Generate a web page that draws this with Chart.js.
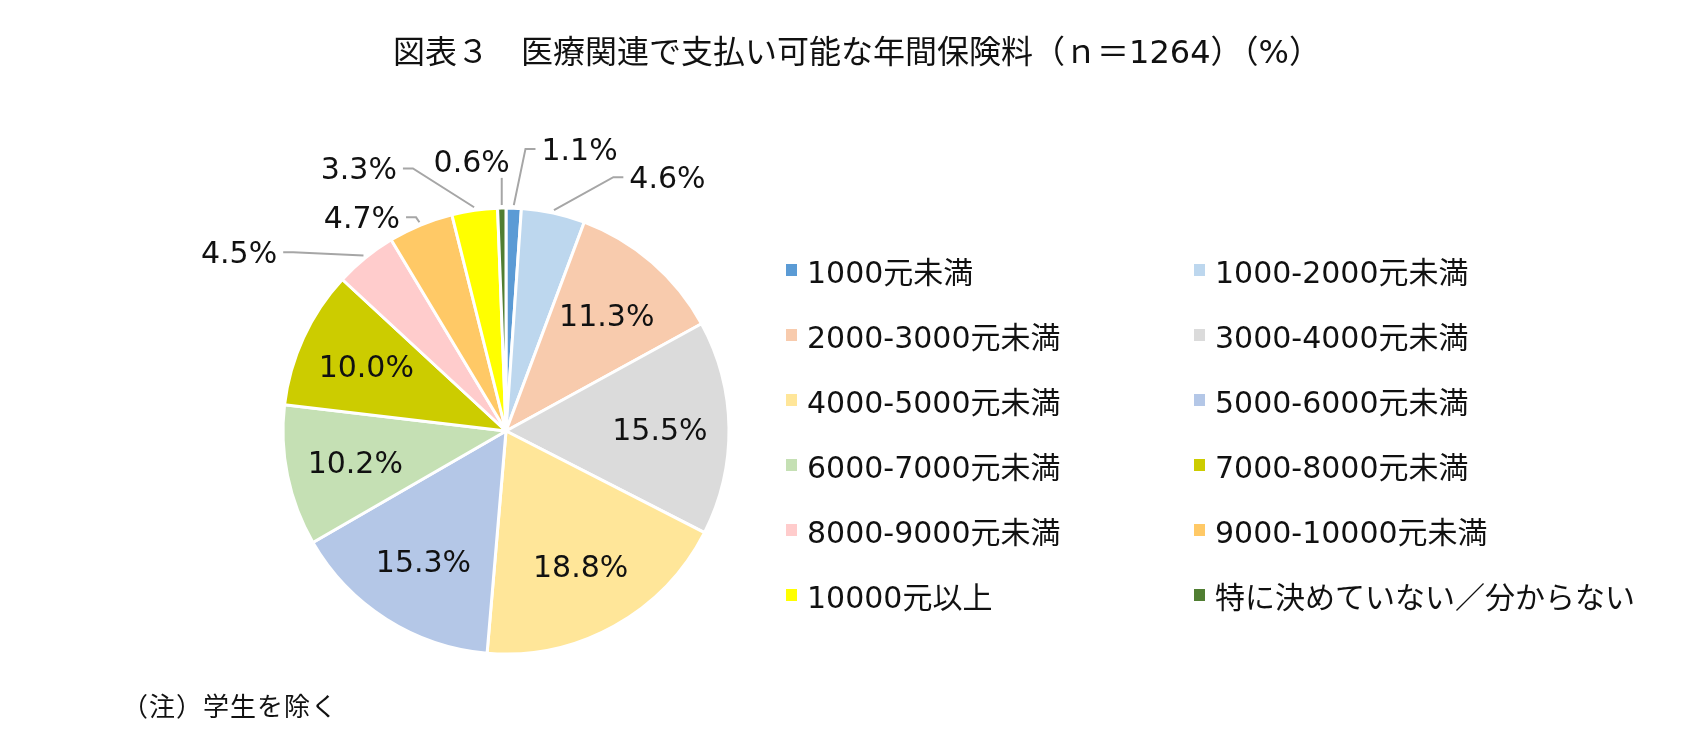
<!DOCTYPE html>
<html lang="ja">
<head>
<meta charset="utf-8">
<title>図表３</title>
<script src="https://cdn.jsdelivr.net/npm/chart.js@4.4.1/dist/chart.umd.min.js"></script>
<style>
  html, body { margin: 0; padding: 0; background: #fff; }
  body {
    position: relative;
    width: 1696px;
    height: 737px;
    overflow: hidden;
    font-family: "DejaVu Sans", "Noto Sans CJK JP", sans-serif;
    color: #111;
  }
  #pieChart { position: absolute; left: 0; top: 0; }
  #title {
    position: absolute;
    left: 257px;
    top: 32px;
    width: 1200px;
    line-height: 40px;
    font-size: 32px;
    text-align: center;
    white-space: nowrap;
  }
  #legend {
    position: absolute;
    left: 786px;
    top: 237px;
    display: grid;
    grid-template-columns: 408px 420px;
    grid-auto-rows: 65px;
  }
  .item { display: flex; align-items: center; font-size: 30px; white-space: nowrap; }
  .box { width: 11px; height: 12px; margin-right: 10px; flex: none; }
  #note {
    position: absolute;
    left: 122px;
    top: 689px;
    line-height: 36px;
    font-size: 26px;
    letter-spacing: 1px;
    white-space: nowrap;
  }
</style>
</head>
<body>
<canvas id="pieChart" width="1696" height="737"></canvas>
<div id="title">図表３　医療関連で支払い可能な年間保険料（ｎ＝1264）（%）</div>
<div id="legend"></div>
<div id="note">（注）学生を除く</div>

<script>
// categories and shares (%), clockwise from 12 o'clock
const categories = [
  "1000元未満", "1000-2000元未満", "2000-3000元未満", "3000-4000元未満",
  "4000-5000元未満", "5000-6000元未満", "6000-7000元未満", "7000-8000元未満",
  "8000-9000元未満", "9000-10000元未満", "10000元以上", "特に決めていない／分からない"
];
const shares = [1.1, 4.6, 11.3, 15.5, 18.8, 15.3, 10.2, 10.0, 4.5, 4.7, 3.3, 0.6];

const colors = [
  "#5B9BD5", "#BDD7EE", "#F8CBAD", "#DBDBDB",
  "#FFE699", "#B4C7E7", "#C5E0B4", "#CCCC00",
  "#FFCCCC", "#FFC966", "#FFFF00", "#507E32"
];

// where the small slices put their labels (relative to centre, in radii)
const outsideLabelAt = {
  0: [0.33, -1.265],
  1: [0.724, -1.138],
  8: [-1.197, -0.802],
  9: [-0.646, -0.958],
  10: [-0.66, -1.177],
  11: [-0.154, -1.211]
};

const sliceLabels = {
  id: "sliceLabels",
  afterDatasetsDraw(chart) {
    const ctx = chart.ctx;
    const arcs = chart.getDatasetMeta(0).data;
    const size = 30;
    const lift = size * 0.729 / 2; // centre the digits on the anchor
    ctx.save();
    ctx.font = size + 'px "DejaVu Sans"';
    ctx.fillStyle = "#111";
    ctx.strokeStyle = "#A6A6A6";
    ctx.lineWidth = 2;
    ctx.textAlign = "center";
    ctx.textBaseline = "alphabetic";
    arcs.forEach((arc, i) => {
      const p = arc.getProps(["x", "y", "startAngle", "endAngle", "outerRadius"], true);
      const mid = (p.startAngle + p.endAngle) / 2;
      const text = shares[i].toFixed(1) + "%";
      const at = outsideLabelAt[i];
      if (!at) {
        const r = p.outerRadius * 0.69;
        ctx.fillText(text, p.x + Math.cos(mid) * r, p.y + Math.sin(mid) * r + lift);
        return;
      }
      const cx = p.x + at[0] * p.outerRadius;
      const cy = p.y + at[1] * p.outerRadius;
      const w = ctx.measureText(text).width;
      const sx = p.x + Math.cos(mid) * (p.outerRadius + 3);
      const sy = p.y + Math.sin(mid) * (p.outerRadius + 3);
      ctx.beginPath();
      if (Math.abs(sx - cx) < w / 2) {
        ctx.moveTo(sx, sy);
        ctx.lineTo(sx, cy + lift + 6);
      } else {
        const side = sx > cx ? 1 : -1;
        const ex = cx + side * (w / 2 + 6);
        const elbow = ex + side * 10;
        if (side * (elbow - sx) < 0) {
          ctx.moveTo(sx, sy);
          ctx.lineTo(elbow, cy);
          ctx.lineTo(ex, cy);
        } else {
          ctx.moveTo(ex, cy);
          ctx.lineTo(sx, cy);
        }
      }
      ctx.stroke();
      ctx.fillText(text, cx, cy + lift);
    });
    ctx.restore();
  }
};

new Chart(document.getElementById("pieChart"), {
  type: "pie",
  data: {
    labels: categories,
    datasets: [{
      data: shares,
      backgroundColor: colors,
      borderColor: "#fff",
      borderWidth: 3,
      radius: 223,
      hoverOffset: 0
    }]
  },
  options: {
    responsive: false,
    animation: false,
    layout: { padding: { left: 256, right: 940, top: 181, bottom: 56 } },
    plugins: {
      legend: { display: false },
      tooltip: { enabled: false }
    }
  },
  plugins: [sliceLabels]
});

// legend, two columns, row by row
const legend = document.getElementById("legend");
categories.forEach((name, i) => {
  const item = document.createElement("div");
  item.className = "item";
  const box = document.createElement("span");
  box.className = "box";
  box.style.background = colors[i];
  item.appendChild(box);
  item.appendChild(document.createTextNode(name));
  legend.appendChild(item);
});
</script>
</body>
</html>
